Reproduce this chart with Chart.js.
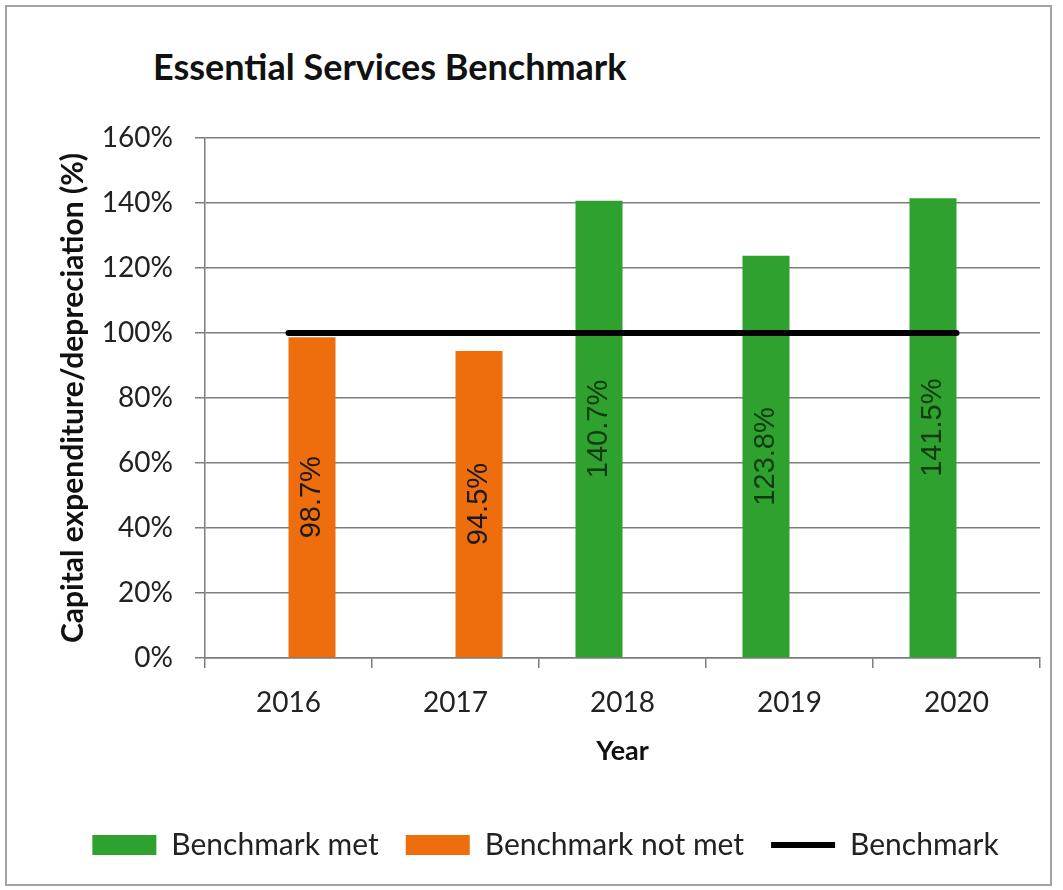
<!DOCTYPE html>
<html>
<head>
<meta charset="utf-8">
<title>Essential Services Benchmark</title>
<script src="https://cdn.jsdelivr.net/npm/chart.js@4.4.1/dist/chart.umd.min.js"></script>
<style>
  html, body { margin: 0; padding: 0; background: #fff; }
  #wrap { position: relative; width: 1063px; height: 890px; }
  #frame {
    position: absolute; left: 5px; top: 5px; width: 1047px; height: 881px;
    border: 2px solid #a3a3a3; box-sizing: border-box;
  }
  #title {
    position: absolute; left: 153px; top: 44px;
    font: bold 36px Lato, sans-serif; color: #111; white-space: nowrap;
  }
  canvas { position: absolute; left: 0; top: 0; }
</style>
</head>
<body>
<div id="wrap">
  <div id="frame"></div>
  <div id="title">Essential Services Benchmark</div>
  <canvas id="chart" width="1063" height="890"></canvas>
</div>
<script>
const years = ['2016', '2017', '2018', '2019', '2020'];
const benchmarkMet = [null, null, 140.7, 123.8, 141.5];
const benchmarkNotMet = [98.7, 94.5, null, null, null];
const benchmark = [100, 100, 100, 100, 100];

const GREEN = '#2fa12f';
const ORANGE = '#ee6e0e';
const GRID = '#7d7d7d';
const labelColors = { 0: '#0f3a0f', 1: '#1a1a1a' };

// value written vertically in the middle of each bar
const barValueLabels = {
  id: 'barValueLabels',
  afterDatasetsDraw(chart) {
    const ctx = chart.ctx;
    chart.data.datasets.forEach((ds, i) => {
      if (ds.type === 'line') return;
      const meta = chart.getDatasetMeta(i);
      meta.data.forEach((bar, j) => {
        const v = ds.data[j];
        if (v == null) return;
        ctx.save();
        ctx.translate(bar.x, (bar.y + bar.base) / 2);
        ctx.rotate(-Math.PI / 2);
        ctx.font = '29px "Liberation Sans", Arial, sans-serif';
        ctx.fillStyle = labelColors[i];
        ctx.textAlign = 'center';
        ctx.textBaseline = 'middle';
        ctx.fillText(v.toFixed(1) + '%', 0, 0);
        ctx.restore();
      });
    });
  }
};

new Chart(document.getElementById('chart'), {
  type: 'bar',
  data: {
    labels: years,
    datasets: [
      { label: 'Benchmark met', data: benchmarkMet, backgroundColor: GREEN, pointStyle: 'rect' },
      { label: 'Benchmark not met', data: benchmarkNotMet, backgroundColor: ORANGE, pointStyle: 'rect' },
      {
        type: 'line', label: 'Benchmark', data: benchmark, order: -1,
        borderColor: '#000', backgroundColor: '#000', borderWidth: 6,
        pointRadius: 0, pointStyle: 'line', borderCapStyle: 'round'
      }
    ]
  },
  options: {
    responsive: false,
    animation: false,
    categoryPercentage: 0.563,
    barPercentage: 1,
    layout: { padding: { top: 138, right: 23, left: 51, bottom: 20 } },
    plugins: {
      title: { display: false },
      tooltip: { enabled: false },
      legend: {
        position: 'bottom',
        labels: {
          usePointStyle: true,
          pointStyleWidth: 64,
          boxHeight: 20,
          padding: 27,
          color: '#222',
          font: { family: 'Lato', size: 30 },
          sort: (a, b) => a.datasetIndex - b.datasetIndex
        }
      }
    },
    scales: {
      x: {
        grid: { offset: true, drawOnChartArea: false, color: GRID, lineWidth: 1.5, tickLength: 10 },
        border: { color: GRID, width: 1.5 },
        ticks: { color: '#222', padding: 18, font: { family: 'Lato', size: 28 } },
        title: {
          display: true, text: 'Year', color: '#111',
          font: { family: 'Lato', size: 27, weight: 'bold' },
          padding: { top: 4, bottom: 36 }
        },
        afterFit: s => { s.height = 145; }
      },
      y: {
        min: 0, max: 160,
        grid: { color: GRID, lineWidth: 1.5, tickLength: 10 },
        border: { color: GRID, width: 1.5 },
        ticks: {
          stepSize: 20, padding: 22, color: '#222',
          font: { family: 'Lato', size: 28 },
          callback: v => v + '%'
        },
        title: {
          display: true, text: 'Capital expenditure/depreciation (%)', color: '#111',
          font: { family: 'Lato', size: 30, weight: 'bold' },
          padding: 4
        },
        afterFit: s => { s.width = 154; }
      }
    }
  },
  plugins: [barValueLabels]
});
</script>
</body>
</html>
